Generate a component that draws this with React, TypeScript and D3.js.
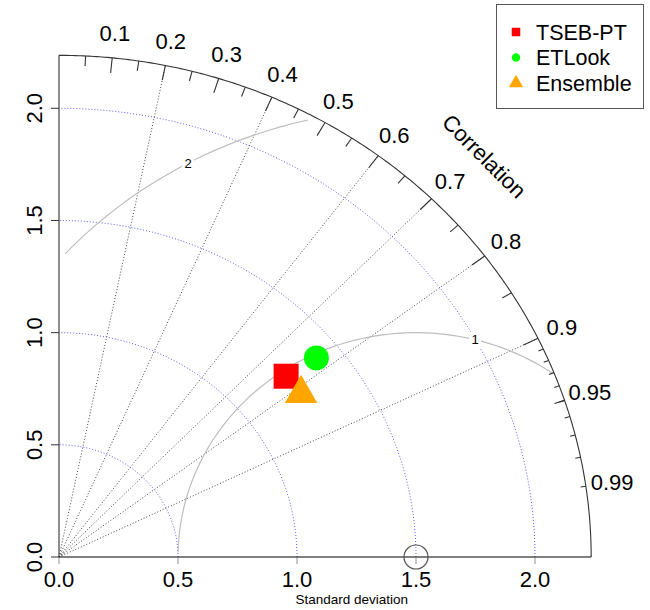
import React, { useEffect } from "react";
import * as d3 from "d3";

// ---------- data ----------
const models = ["TSEB-PT", "ETLook", "Ensemble"];
const modelSd = [1.249, 1.399, 1.251];
const modelCor = [0.764, 0.773, 0.813];
const modelColors = ["#ff0000", "#00ff00", "#ffa500"];
const modelShapes = ["square", "circle", "triangle"];

const refSd = 1.5;
const maxSd = 2.236;

const sdTicks = [0, 0.5, 1.0, 1.5, 2.0];
const sdTickLabels = ["0.0", "0.5", "1.0", "1.5", "2.0"];
const sdArcs = [0.5, 1.0, 1.5, 2.0];

const corBigTicks = [0.1, 0.2, 0.3, 0.4, 0.5, 0.6, 0.7, 0.8, 0.9];
const corMedTicks = [0.05, 0.15, 0.25, 0.35, 0.45, 0.55, 0.65, 0.75, 0.85, 0.95];
const corSmallTicks = [0.91, 0.92, 0.93, 0.94, 0.95, 0.96, 0.97, 0.98, 0.99];
const corLabelValues = [0.1, 0.2, 0.3, 0.4, 0.5, 0.6, 0.7, 0.8, 0.9, 0.95, 0.99];
const corLabelTexts = ["0.1", "0.2", "0.3", "0.4", "0.5", "0.6", "0.7", "0.8", "0.9", "0.95", "0.99"];
const corLines = [0.2, 0.4, 0.6, 0.7, 0.8, 0.9];

const gammas = [1, 2];
const gammaLabelIdx = [44, 69];

// ---------- layout ----------
const W = 650;
const H = 610;
const X0 = 59;
const Y0 = 557;
const PX_X = 238;
const PX_Y = 224.35;
const FONT = "'Liberation Sans', Arial, Helvetica, sans-serif";

const x = d3.scaleLinear().domain([0, maxSd * 1.1]).range([X0, X0 + maxSd * 1.1 * PX_X]);
const y = d3.scaleLinear().domain([0, maxSd * 1.1]).range([Y0, Y0 - maxSd * 1.1 * PX_Y]);

const line = d3
  .line<[number, number]>()
  .x((d) => x(d[0]))
  .y((d) => y(d[1]));

function arcPts(r: number, step: number, end = Math.PI / 2): [number, number][] {
  const a = d3.range(0, end + 1e-9, step);
  if (a[a.length - 1] < end) a.push(end);
  return a.map((t) => [Math.cos(t) * r, Math.sin(t) * r]);
}

function gammaCurve(g: number) {
  const angles = d3.range(0, Math.PI + 1e-9, 0.03);
  const xs = angles.map((a) => Math.cos(a) * g + refSd);
  const ys = angles.map((a) => Math.sin(a) * g);
  let end = xs.findIndex((v) => v < 0);
  end = end === -1 ? xs.length - 1 : end - 1;
  let start = 0;
  xs.forEach((v, i) => {
    if (v * v + ys[i] * ys[i] > maxSd * maxSd) start = i + 1;
  });
  const pts: [number, number][] = [];
  for (let i = start; i <= end; i++) pts.push([xs[i], ys[i]]);
  return { pts, lx: xs, ly: ys };
}

function Marker({ shape, cx, cy, size, color }: any) {
  if (shape === "square") {
    return <rect x={cx - size / 2} y={cy - size / 2} width={size} height={size} fill={color} />;
  }
  if (shape === "circle") {
    return <circle cx={cx} cy={cy} r={size / 2} fill={color} />;
  }
  const r = size * 0.75;
  const xc = r * Math.sqrt(3) / 2;
  return (
    <polygon
      points={`${cx},${cy - r} ${cx + xc},${cy + r / 2} ${cx - xc},${cy + r / 2}`}
      fill={color}
    />
  );
}

export default function App() {
  useEffect(() => {
    document.body.style.margin = "0";
  }, []);

  const polar = (c: number, r: number): [number, number] => [x(c * r), y(Math.sqrt(1 - c * c) * r)];

  return (
    <svg width={W} height={H} style={{ position: "absolute", left: 0, top: 0, background: "#fff" }} fontFamily={FONT}>
      {/* correlation rays */}
      {corLines.map((c) => (
        <path
          key={"cl" + c}
          d={line([[0, 0], [c * maxSd, Math.sqrt(1 - c * c) * maxSd]]) || ""}
          stroke="#333"
          strokeWidth={0.9}
          strokeDasharray="1 2"
          fill="none"
        />
      ))}

      {/* sd arcs */}
      {sdArcs.map((r) => (
        <path
          key={"sa" + r}
          d={line(arcPts(r, 0.01)) || ""}
          stroke="#4a4aff"
          strokeWidth={0.9}
          strokeDasharray="1 2"
          fill="none"
        />
      ))}

      {/* gamma (RMS) contours */}
      {gammas.map((g, gi) => {
        const { pts, lx, ly } = gammaCurve(g);
        const li = gammaLabelIdx[gi];
        const lxp = x(lx[li]);
        const lyp = y(ly[li]);
        return (
          <g key={"g" + g}>
            <path d={line(pts) || ""} stroke="#bebebe" strokeWidth={1.2} fill="none" />
            <rect x={lxp - 6} y={lyp - 8} width={12} height={16} fill="#fff" />
            <text x={lxp} y={lyp} dy="0.35em" textAnchor="middle" fontSize={13} fill="#000">
              {g}
            </text>
          </g>
        );
      })}

      {/* outer arc */}
      <path d={line(arcPts(maxSd, 0.005)) || ""} stroke="#333" strokeWidth={1.1} fill="none" />

      {/* axes lines */}
      <path d={line([[0, 0], [maxSd, 0]]) || ""} stroke="#000" strokeWidth={1.1} fill="none" />
      <path d={line([[0, 0], [0, maxSd]]) || ""} stroke="#333" strokeWidth={1.1} fill="none" />

      {/* x ticks & labels */}
      {sdTicks.map((t, i) => (
        <g key={"xt" + t}>
          <line x1={x(t)} x2={x(t)} y1={Y0} y2={Y0 + 7} stroke="#777" strokeWidth={0.8} />
          <text x={x(t)} y={Y0 + 30} textAnchor="middle" fontSize={22} fill="#000">
            {sdTickLabels[i]}
          </text>
        </g>
      ))}

      {/* y ticks & labels */}
      {sdTicks.map((t, i) => (
        <g key={"yt" + t}>
          <line x1={X0 - 8} x2={X0} y1={y(t)} y2={y(t)} stroke="#333" strokeWidth={1} />
          <text
            transform={`translate(${X0 - 17},${y(t)}) rotate(-90)`}
            textAnchor="middle"
            fontSize={22}
            fill="#000"
          >
            {sdTickLabels[i]}
          </text>
        </g>
      ))}

      {/* correlation ticks */}
      {corBigTicks.map((c) => {
        const [x1, y1] = polar(c, maxSd);
        const [x2, y2] = polar(c, maxSd * 0.97);
        return <line key={"bt" + c} x1={x1} y1={y1} x2={x2} y2={y2} stroke="#333" strokeWidth={1.1} />;
      })}
      {corMedTicks.map((c) => {
        const [x1, y1] = polar(c, maxSd);
        const [x2, y2] = polar(c, maxSd * 0.98);
        return <line key={"mt" + c} x1={x1} y1={y1} x2={x2} y2={y2} stroke="#333" strokeWidth={1.1} />;
      })}
      {corSmallTicks.map((c) => {
        const [x1, y1] = polar(c, maxSd);
        const [x2, y2] = polar(c, maxSd * 0.99);
        return <line key={"st" + c} x1={x1} y1={y1} x2={x2} y2={y2} stroke="#333" strokeWidth={1.1} />;
      })}
      {corLabelValues.map((c, i) => {
        const [lx, ly] = polar(c, maxSd * 1.05);
        return (
          <text key={"cl" + c} x={lx} y={ly} dy="0.35em" textAnchor="middle" fontSize={22} fill="#000">
            {corLabelTexts[i]}
          </text>
        );
      })}
      {(() => {
        const [cx, cy] = polar(Math.cos(Math.PI / 4), maxSd * 1.13);
        return (
          <text
            transform={`translate(${cx},${cy}) rotate(45)`}
            dy="0.35em"
            textAnchor="middle"
            fontSize={22}
            fill="#000"
          >
            Correlation
          </text>
        );
      })()}

      {/* reference point */}
      <circle cx={x(refSd)} cy={y(0)} r={12} fill="none" stroke="#555" strokeWidth={1.2} />

      {/* model points */}
      {models.map((m, i) => {
        const c = modelCor[i];
        const s = modelSd[i];
        const px = x(c * s);
        const py = y(Math.sqrt(1 - c * c) * s);
        return (
          <Marker
            key={m}
            shape={modelShapes[i]}
            cx={px}
            cy={py}
            size={25}
            color={modelColors[i]}
          />
        );
      })}

      {/* x label */}
      <text x={(x(0) + x(maxSd * 1.1)) / 2} y={604} textAnchor="middle" fontSize={13.5} fill="#000">
        Standard deviation
      </text>

      {/* legend */}
      <g>
        <rect x={496.5} y={4.5} width={147} height={104} fill="#fff" stroke="#555" strokeWidth={1} />
        {models.map((m, i) => (
          <g key={"lg" + m}>
            <Marker shape={modelShapes[i]} cx={516} cy={32 + i * 25.5} size={modelShapes[i] === "triangle" ? 11 : 8.5} color={modelColors[i]} />
            <text x={536} y={32 + i * 25.5} dy="0.35em" fontSize={21.5} fill="#000">
              {m}
            </text>
          </g>
        ))}
      </g>
    </svg>
  );
}
